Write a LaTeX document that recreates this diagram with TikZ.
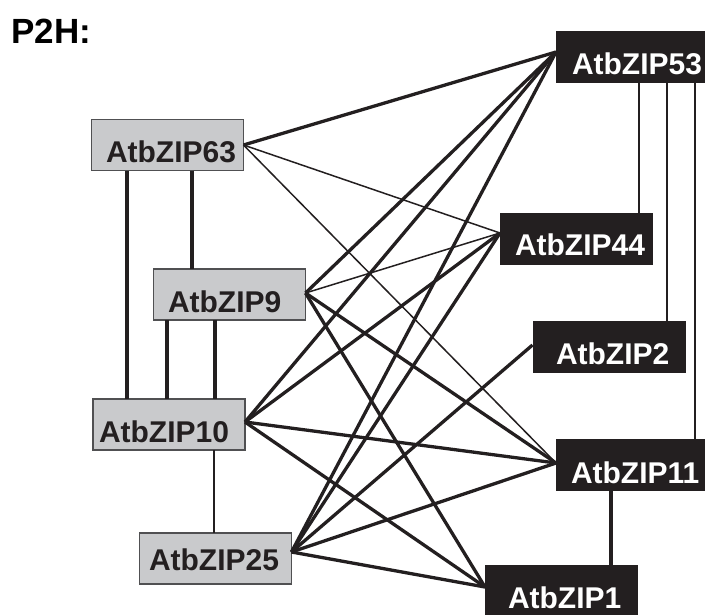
\documentclass[tikz,border=0pt]{standalone}
\usepackage{fontspec}
\setmainfont{Liberation Sans}
\definecolor{ink}{HTML}{231F20}
\definecolor{boxgray}{HTML}{C9CACC}
\definecolor{edgegray}{HTML}{505052}
\begin{document}
\begin{tikzpicture}[x=1pt,y=-1pt,
  gbox/.style={draw=edgegray,line width=1.4pt,fill=boxgray,minimum width=152pt,minimum height=51pt,inner sep=0pt,outer sep=0pt},
  kbox/.style={fill=ink,minimum width=153pt,minimum height=52pt,inner sep=0pt,outer sep=0pt},
  gtxt/.style={anchor=base west,inner sep=0pt,outer sep=0pt,font=\bfseries\fontsize{30}{36}\selectfont,text=ink},
  ktxt/.style={gtxt,text=white},
  wthick/.style={draw=ink,line width=3.3pt},
  wthin/.style={draw=ink,line width=1.5pt},
  wvert/.style={draw=ink,line width=3.1pt},
  wvthin/.style={draw=ink,line width=2.3pt}]
\useasboundingbox (0,0) rectangle (705,614);
\clip (0,0) rectangle (705,614);

% title
\node[anchor=base west,inner sep=0pt,font=\bfseries\fontsize{35}{40}\selectfont,text=black] (title) at (11,43) {P2H:};

% grey boxes
\node[gbox] (n63) at (167.5,145) {};
\node[gbox] (n9)  at (229.5,294.5) {};
\node[gbox] (n10) at (169,424.5) {};
\node[gbox] (n25) at (215.5,558.5) {};
% black boxes
\node[kbox] (n53) at (632.5,57) {};
\node[kbox] (n44) at (576.5,238.5) {};
\node[kbox] (n2)  at (609,346.5) {};
\node[kbox] (n11) at (632.5,465) {};
\node[kbox] (n1)  at (561.5,591) {};

% vertical links
\draw[wvert]  (n63.south -| 127,0) -- (n10.north -| 127,0);
\draw[wvert]  (n63.south -| 192,0) -- (n9.north -| 192,0);
\draw[wvert]  (n9.south -| 167,0) -- (n10.north -| 167,0);
\draw[wvert]  (n9.south -| 215,0) -- (n10.north -| 215,0);
\draw[wvthin] (n10.south -| 214,0) -- (n25.north -| 214,0);
\draw[wvthin] (n53.south -| 639,0) -- (n44.north -| 639,0);
\draw[wvthin] (n53.south -| 667,0) -- (n2.north -| 667,0);
\draw[wvthin] (n53.south -| 695,0) -- (n11.north -| 695,0);
\draw[wvert]  (n11.south -| 611,0) -- (n1.north -| 611,0);

% diagonal links
\draw[wthick] (n63.east) -- ([yshift=5pt]n53.west);
\draw[wthin]  (n63.east) -- ([yshift=5.5pt]n44.west);
\draw[wthin]  (n63.east) -- ([yshift=2pt]n11.west);

\draw[wthick] ([yshift=1.5pt]n9.east) -- ([yshift=5pt]n53.west);
\draw[wthin]  ([yshift=1.5pt]n9.east) -- ([yshift=5.5pt]n44.west);
\draw[wthick] ([yshift=1.5pt]n9.east) -- ([yshift=2pt]n11.west);
\draw[wthick] ([yshift=1.5pt]n9.east) -- ([yshift=4pt]n1.west);

\draw[wthick] ([yshift=2.5pt]n10.east) -- ([yshift=5pt]n53.west);
\draw[wthick] ([yshift=2.5pt]n10.east) -- ([yshift=5.5pt]n44.west);
\draw[wthick] ([yshift=2.5pt]n10.east) -- ([yshift=2pt]n11.west);
\draw[wthick] ([yshift=2.5pt]n10.east) -- ([yshift=4pt]n1.west);

\draw[wthick] ([yshift=6.5pt]n25.east) -- ([yshift=5pt]n53.west);
\draw[wthick] ([yshift=6.5pt]n25.east) -- ([yshift=5.5pt]n44.west);
\draw[wthick] ([yshift=6.5pt]n25.east) -- ([yshift=1.5pt]n2.west);
\draw[wthick] ([yshift=6.5pt]n25.east) -- ([yshift=2pt]n11.west);
\draw[wthick] ([yshift=6.5pt]n25.east) -- ([yshift=4pt]n1.west);

% labels
\node[gtxt] (t63) at (106,162) {AtbZIP63};
\node[gtxt] (t9)  at (168,312) {AtbZIP9};
\node[gtxt] (t10) at (99,442) {AtbZIP10};
\node[gtxt] (t25) at (149,570.5) {AtbZIP25};
\node[ktxt] (t53) at (572,74) {AtbZIP53};
\node[ktxt] (t44) at (515,255) {AtbZIP44};
\node[ktxt] (t2)  at (556,364) {AtbZIP2};
\node[ktxt] (t11) at (571,483) {AtbZIP11};
\node[ktxt] (t1)  at (508,608) {AtbZIP1};
\end{tikzpicture}
\end{document}
